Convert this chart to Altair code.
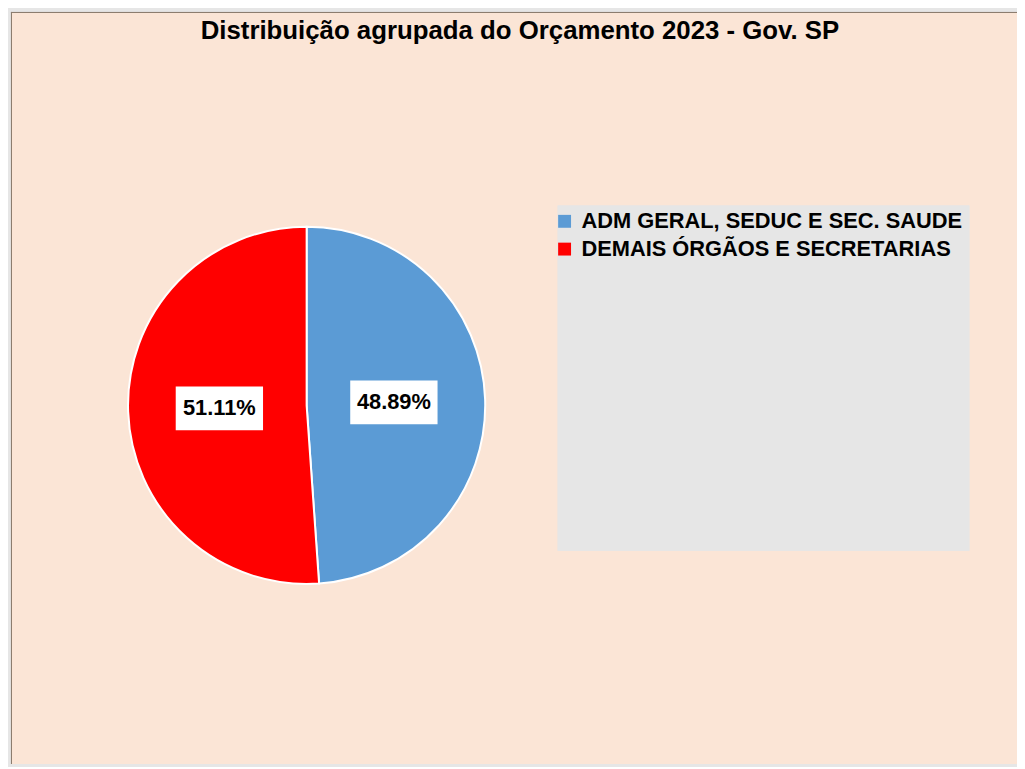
import altair as alt
import numpy as np
import pandas as pd

# ---- data ----
categories = ["ADM GERAL, SEDUC E SEC. SAUDE", "DEMAIS ÓRGÃOS E SECRETARIAS"]
shares = [48.89, 51.11]
labels = ["48.89%", "51.11%"]
colors = ["#5B9BD5", "#FF0000"]
title_text = "Distribuição agrupada do Orçamento 2023 - Gov. SP"

FONT = "Liberation Sans"
W, H = 1014, 758
BORDER = "#8C7D70"

# ---- layout (pixels inside the plot area) ----
CX, CY, R = 298, 396.5, 180
LR = 88

df = pd.DataFrame({"cat": categories, "share": shares, "label": labels,
                   "order": list(range(len(categories)))})
s = np.array(shares, dtype=float)
mid = (np.cumsum(s) - s / 2) / s.sum() * 2 * np.pi
df["lx"] = CX + LR * np.sin(mid)
df["ly"] = CY - LR * np.cos(mid)

base = alt.Chart(df)

legend_bg = base.mark_rect(color="#E6E6E6").encode(
    x=alt.value(551), x2=alt.value(966), y=alt.value(195), y2=alt.value(543)
)

top_border = base.mark_rule(color=BORDER, strokeWidth=1).encode(
    x=alt.value(0), x2=alt.value(W), y=alt.value(0.5)
)
left_border = base.mark_rule(color=BORDER, strokeWidth=1).encode(
    x=alt.value(0.5), y=alt.value(0), y2=alt.value(H)
)

pie = base.mark_arc(outerRadius=R, stroke="white", strokeWidth=2).encode(
    theta=alt.Theta("share:Q", stack=True),
    color=alt.Color(
        "cat:N",
        scale=alt.Scale(domain=categories, range=colors),
        legend=alt.Legend(
            title=None,
            orient="none",
            legendX=547,
            legendY=200,
            padding=0,
            symbolType="square",
            symbolSize=169,
            symbolStrokeWidth=0,
            symbolOpacity=1,
            labelFont=FONT,
            labelFontSize=22,
            labelFontWeight="bold",
            labelColor="black",
            labelOffset=6,
            labelLimit=600,
            rowPadding=6,
        ),
    ),
    order=alt.Order("order:Q"),
    x=alt.value(CX),
    y=alt.value(CY),
)

boxes = base.mark_point(
    shape="M-1,-0.5H1V0.5H-1Z", filled=True, fill="white", opacity=1,
    size=88 * 88, strokeWidth=0,
).encode(
    x=alt.X("lx:Q", scale=None),
    y=alt.Y("ly:Q", scale=None),
)

texts = base.mark_text(
    font=FONT, fontSize=22, fontWeight="bold", color="black",
    align="center", baseline="middle",
).encode(
    x=alt.X("lx:Q", scale=None),
    y=alt.Y("ly:Q", scale=None),
    text="label:N",
)

chart = (
    alt.layer(legend_bg, top_border, left_border, pie, boxes, texts)
    .properties(
        width=W,
        height=H,
        autosize=alt.AutoSizeParams(type="none"),
        padding={"left": 3, "top": 1, "right": 0, "bottom": 0},
        background="#E6E6E6",
        title=alt.Title(
            title_text, font=FONT, fontSize=26, fontWeight="bold",
            color="black", anchor="middle", baseline="middle", offset=0,
            dy=46, dx=6,
        ),
    )
    .configure_view(fill="#FBE5D6", strokeWidth=0)
)

chart.save("out.html", embed_options={"renderer": "svg", "actions": False})
